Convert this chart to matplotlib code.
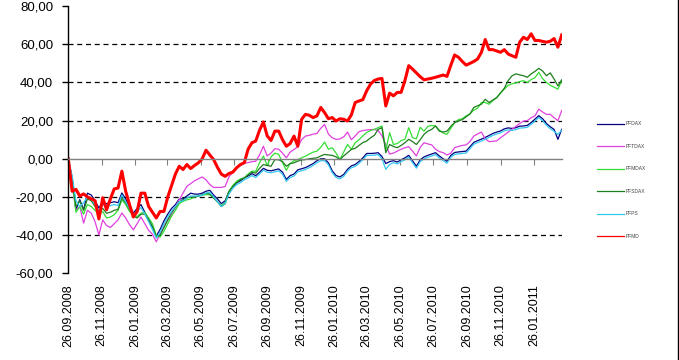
import numpy as np
import pandas as pd
import matplotlib
matplotlib.use('Agg')
import matplotlib.pyplot as plt
import matplotlib.dates as mdates
from matplotlib.ticker import FuncFormatter, MultipleLocator
from matplotlib.lines import Line2D

plt.rcParams['font.family'] = ['Liberation Sans', 'DejaVu Sans']

# weekly performance in %, starting 26.09.2008
dates = pd.date_range('2008-09-26', periods=130, freq='7D')

pfdax = [0, -10, -26.7, -21.4, -26.7, -18, -19, -22, -25.8, -22.5,
         -23.5, -23, -22.5, -23, -17.9, -21, -25, -28.4, -26, -24,
         -28, -32, -36, -40.5, -37, -32.5, -29, -26, -24, -21,
         -21, -19.5, -18, -18.5, -18.5, -18, -17, -16.5, -19, -21,
         -23.5, -22, -17, -14.5, -12.6, -11.5, -10, -9, -7.8, -8.8,
         -7, -5, -6, -6.3, -5.8, -5.3, -7, -10.8, -8.8, -8,
         -5.8, -5.2, -4.6, -3.6, -2.5, -1, 0, 0, -2.1, -6.3,
         -8.8, -9.5, -8.2, -5.5, -3.7, -3, -1.4, 0.5, 2.8, 2.8,
         2.9, 3.2, 1.2, -2.5, -1.5, -1, -1.7, -0.5, 0.5, 1.8,
         -1, -3.9, -0.5, 1, 1.8, 2.5, 3.2, 1.5, 0, -1.3,
         1.8, 3.3, 3.6, 3.8, 4, 6.3, 8.6, 9.5, 10.3, 11.2,
         12.2, 13.3, 14, 14.6, 15.7, 16.2, 15.9, 16.3, 17.1, 17.2,
         17.5, 19, 20.8, 22.6, 21, 18.5, 16.8, 15.4, 10.2, 15.5]

pftdax = [0, -14, -27, -25, -33.7, -27, -28.5, -33, -39.9, -32,
          -35, -36, -34, -32, -28.4, -31, -34.5, -37.2, -34, -30.5,
          -34, -37.5, -39.5, -43.5, -39.5, -35.5, -32, -29.5, -25, -21.5,
          -18, -14.4, -13, -11.5, -10.5, -9.5, -11, -13.5, -15, -15,
          -15, -14.5, -9.5, -7, -4.5, -3.5, -2.3, -2, -1.5, -1.3,
          2, 6.6, 1.5, 3, 5.3, 5, 3, 0.5, 3.5, 4.9,
          6.3, 10, 11.9, 12.3, 12.9, 13.3, 16, 18, 13, 11,
          10.2, 10.4, 11.5, 14, 10, 12, 14.2, 14.8, 15.1, 15.3,
          15.4, 14.8, 12, 7.5, 2.5, 3, 4, 5, 5.8, 6.3,
          4, 1.5, 6, 8.4, 7.8, 7.3, 5, 3.8, 3.2, 2,
          3, 5.8, 6.5, 7, 7.3, 9, 11.9, 13, 14, 10.5,
          9, 9.2, 9.4, 11, 12.5, 14, 15.5, 17, 18.5, 19.8,
          20, 21.5, 22.5, 26, 24.5, 23.3, 23.3, 21.5, 20, 25.3]

pfmdax = [0, -12, -28, -25, -29, -24, -25, -27, -29, -27.6,
          -31, -30.5, -29.3, -27, -21.5, -24, -27.6, -29.5, -30.2, -28.5,
          -28, -31, -34, -40, -41, -38, -34, -30, -27, -23.5,
          -22.3, -21.5, -21, -20, -19.7, -19, -18.8, -18.8, -20.5, -22.5,
          -24.5, -23, -17, -14, -11.8, -10.5, -10, -8, -6.5, -6.5,
          -2, 1.4, -3.5, 1, 3, 2.3, -2, -6, -2.5, -1,
          -0.4, 0.5, 1.4, 2.5, 3.5, 4, 6, 8.8, 5, 5.8,
          3, -0.4, 3.5, 7.5, 5, 8.4, 10, 12, 13.8, 14.8,
          15.4, 16.3, 17.2, 4.5, 13.7, 7.5, 8, 9.5, 10.2, 16.3,
          11, 10.5, 16.5, 14.5, 17, 17.5, 17.2, 15, 13.5, 12.8,
          16, 19, 20.5, 21, 22.5, 23.5, 25.5, 26.5, 29.5, 29.5,
          28.6, 30.5, 32, 34.5, 36.5, 38.5, 39.3, 39.7, 40.5, 40.9,
          40, 41.5, 42.5, 45.3, 42, 40, 38.5, 37.5, 36.5, 40.9]

pfsdax = [0, -11, -25, -22, -27, -21, -22, -25, -28, -26,
          -28.5, -28, -27, -26.5, -20.5, -23, -26.5, -30, -31, -29,
          -29, -32, -35.5, -41, -40, -36, -32, -28, -25.5, -22.5,
          -21.5, -20.5, -20, -20, -19.5, -18.8, -18, -18.5, -20.5, -22.5,
          -25, -23.5, -17.5, -14.5, -12.5, -11, -10, -8.5, -7, -7.5,
          -5, -3, -3.5, -3.9, -0.4, -0.5, -1.5, -3.9, -2.5, -2.1,
          -1.2, -0.6, -0.4, 0, 0.3, 0.5, 1.5, 2.3, 2, 1.8,
          1, -0.4, 1.5, 3.2, 4.9, 5.5, 7, 8.5, 9.3, 11,
          12.3, 15.4, 16.3, 3.2, 7.5, 6.5, 5.8, 7, 8.4, 10.2,
          9, 7.5, 10, 12.8, 14.5, 15.4, 17.2, 14.5, 14, 14.5,
          17, 19, 19.8, 20.5, 22, 23.5, 26.9, 27.8, 28.6, 31.2,
          29.5, 30.8, 32.1, 34.5, 37, 41, 43.5, 44.5, 44, 43.5,
          42.7, 44.5, 45.8, 47.4, 46, 43.5, 45, 41.8, 38.2, 41.4]

pfps = [0, -9, -22, -25, -23, -20, -21, -24, -27, -24,
        -25, -24.5, -24, -24.5, -19, -22.5, -26, -29.5, -27.5, -25.5,
        -29, -33, -37, -41.5, -38.5, -34, -30.5, -27.5, -25, -22.5,
        -22, -20.5, -19.5, -19.5, -19.5, -19, -18, -17.5, -20, -22.5,
        -25, -23.5, -18.5, -15.5, -13.5, -12.5, -11, -10, -8.8, -9.8,
        -8, -6, -7, -7.3, -6.8, -6.3, -8, -11.8, -9.8, -9,
        -6.8, -6.2, -5.6, -4.6, -3.5, -2, -1, -1, -3.1, -7.3,
        -9.8, -10.5, -9.2, -6.5, -4.7, -4, -2.4, -0.5, 1.8, 1.8,
        1.9, 2.2, 0, -5.5, -3, -2, -2.7, -1.5, -0.5, 0.8,
        -2, -4.9, -1.5, 0, 0.8, 1.5, 2.2, 0.5, -1, -2.3,
        0.8, 2.3, 2.6, 2.8, 3, 5.3, 7.6, 8.5, 9.3, 10.2,
        11.2, 12.3, 13, 13.6, 14.7, 15.2, 14.9, 15.3, 16.1, 16.2,
        16.5, 18, 19.8, 21.6, 20, 17.5, 15.8, 14.4, 12.8, 15]

pfmd = [0, -17, -16, -19.5, -18.4, -20, -21, -22, -31.5, -20.4,
        -26.7, -21, -15.8, -15.3, -6.5, -17, -24, -30.5, -27.6, -18,
        -18, -25, -28, -31, -27.6, -27.6, -20, -14, -8, -3.9,
        -5.6, -3, -5.1, -3.5, -2.1, 0, 4.5, 2, -0.4, -4.5,
        -8, -9.2, -7.7, -7, -4.7, -3, -2.1, 5, 8.4, 9.3,
        15, 19.3, 12, 9.6, 14.5, 14.5, 10, 6.6, 8, 11.9,
        6.6, 20.7, 23.3, 22.8, 21.6, 22.5, 26.9, 24.2, 21, 21.6,
        19.8, 21, 20.7, 19.8, 23, 29.5, 30.3, 31, 35.6, 39.1,
        41, 41.8, 42.1, 27.7, 34.4, 33, 34.8, 34.8, 41, 48.8,
        47, 45, 43, 41.4, 41.8, 42.2, 42.7, 43.3, 43.9, 43.2,
        49, 54.4, 53.2, 51, 49.1, 50, 51, 52.3, 55.8, 62.5,
        57.2, 57.2, 56.5, 55.8, 57.2, 54.9, 54, 53.2, 61.1, 63.7,
        62.5, 65.5, 62, 62, 61.5, 61.1, 61.6, 63, 58.5, 64.9]

names = ['PFDAX', 'PFTDAX', 'PFMDAX', 'PFSDAX', 'PFPS', 'PFMD']
colors = ['#000080', '#e040e0', '#33dd33', '#1e7d1e', '#33c8f0', '#ff0000']
widths = [0.9, 0.9, 0.9, 0.9, 0.9, 2.2]
series = [pfdax, pftdax, pfmdax, pfsdax, pfps, pfmd]

fig = plt.figure(figsize=(6.79, 3.6), dpi=100)
ax = fig.add_axes([0.1006, 0.2408, 0.7267, 0.7422])

for vals, name, c, w in zip(series, names, colors, widths):
    ax.plot(dates, vals, color=c, lw=w, label=name)

ax.set_xlim(dates[0], dates[-1])
ax.set_ylim(-60, 80)
ax.yaxis.set_major_locator(MultipleLocator(20))
ax.yaxis.set_major_formatter(FuncFormatter(lambda v, p: f'{v:.2f}'.replace('.', ',')))
ax.tick_params(axis='y', direction='out', length=4, width=1, labelsize=9.5, pad=7)

# dashed lines for the inner y ticks, zero is the category axis
for v in np.arange(-40, 80, 20):
    if v != 0:
        ax.axhline(v, color='k', lw=0.9, ls=(0, (4, 3)), zorder=0)

ax.spines['top'].set_visible(False)
ax.spines['right'].set_visible(False)
ax.spines['left'].set_linewidth(1)
ax.spines['bottom'].set_position(('data', 0))
ax.spines['bottom'].set_color('#808080')
ax.spines['bottom'].set_linewidth(1)

ticks = mdates.MonthLocator(bymonth=[1, 3, 5, 7, 9, 11], bymonthday=26)
ax.xaxis.set_major_locator(ticks)
ax.tick_params(axis='x', direction='out', length=4, color='#808080', labelbottom=False)

# date labels sit below the plot, not at the zero line
sec = ax.secondary_xaxis('bottom')
sec.xaxis.set_major_locator(mdates.MonthLocator(bymonth=[1, 3, 5, 7, 9, 11], bymonthday=26))
sec.xaxis.set_major_formatter(mdates.DateFormatter('%d.%m.%Y'))
sec.tick_params(axis='x', length=0, labelsize=9, labelrotation=90, pad=8)
sec.spines['bottom'].set_visible(False)

leg = fig.legend(loc='upper left', bbox_to_anchor=(0.879, 0.663), frameon=False,
                 fontsize=3.5, handlelength=5.5, handletextpad=0.4,
                 labelspacing=3.6, borderpad=0, borderaxespad=0)
for lh in leg.get_lines():
    lh.set_linewidth(0.9)
for t in leg.get_texts():
    t.set_color('#404040')

fig.add_artist(Line2D([0.9985, 0.9985], [0, 1], transform=fig.transFigure, color='k', lw=1))

fig.savefig('out.png', dpi=100)
